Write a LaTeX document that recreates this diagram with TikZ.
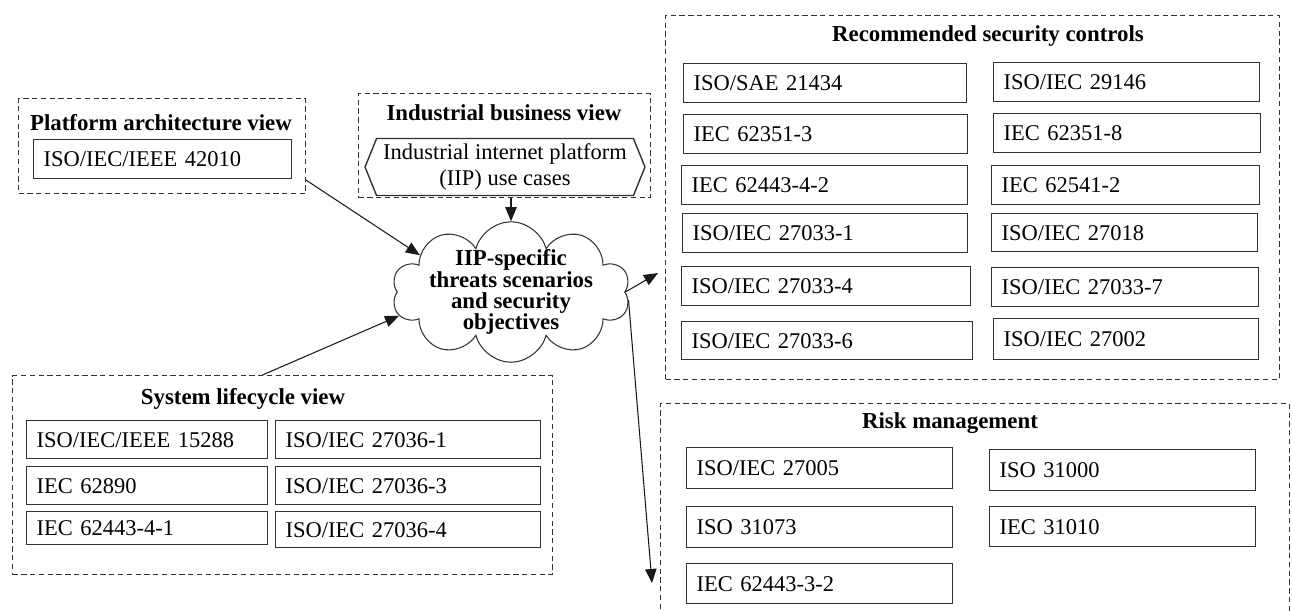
\documentclass[tikz,border=0pt]{standalone}
\usepackage{fontspec}
\setmainfont{Liberation Serif}
\usetikzlibrary{arrows.meta, calc, shapes.symbols}
\tikzset{
  stdbox/.style={draw=black!80, line width=0.8pt, anchor=north west, inner xsep=0.2cm, inner ysep=0pt,
    minimum height=0.78cm, text width=#1, align=left, font=\fontsize{12.8}{14}\selectfont},
  viewbox/.style={draw=black!80, line width=0.6pt, dash pattern=on 3pt off 2pt, anchor=north west, inner sep=0pt},
  viewtitle/.style={font=\fontsize{13}{15}\selectfont\bfseries, inner sep=0pt},
  flow/.style={-{Triangle[length=8pt,width=6.5pt]}, line width=0.6pt, black!90},
}

\begin{document}
\begin{tikzpicture}[x=0.02cm, y=-0.02cm]
  \useasboundingbox (0,0) rectangle (1292,610);

  % the views round the threats
  \node[viewbox, minimum width=5.74cm, minimum height=1.9cm] (pav) at (18,98) {};
  \node[viewtitle] (pavt) at (161,123) {Platform architecture view};
  \node[stdbox=4.76cm] (iso42010) at (33,139) {ISO/IEC/IEEE 42010};

  \node[viewbox, minimum width=5.84cm, minimum height=2.08cm] (ibv) at (358,93) {};
  \node[viewtitle] (ibvt) at (504,113) {Industrial business view};
  \node[signal, signal to=west and east, signal pointer angle=136, draw=black!80, line width=0.8pt,
    minimum width=5.6cm, minimum height=1.14cm, inner sep=0pt, align=center,
    font=\fontsize{12.8}{15}\selectfont] (iip) at (505,167) {Industrial internet platform\\(IIP) use cases};

  \node[cloud, draw=black!80, line width=0.6pt, cloud puffs=10, aspect=2.4, inner xsep=-2pt, inner ysep=-16pt,
    minimum width=4.76cm, minimum height=2.3cm, align=center,
    font=\fontsize{13}{12}\selectfont\bfseries] (threat) at (511,292)
    {IIP-specific\\threats scenarios\\and security\\objectives};

  \node[viewbox, minimum width=10.8cm, minimum height=3.98cm] (slv) at (12,375) {};
  \node[viewtitle] (slvt) at (243,399) {System lifecycle view};
  \node[stdbox=4.42cm, minimum height=0.76cm] (iso15288) at (26,420) {ISO/IEC/IEEE 15288};
  \node[stdbox=4.42cm, minimum height=0.76cm] (iec62890) at (26,466) {IEC 62890};
  \node[stdbox=4.42cm, minimum height=0.66cm] (iec6244341) at (26,511) {IEC 62443-4-1};
  \node[stdbox=4.9cm, minimum height=0.76cm] (iso270361) at (275,420) {ISO/IEC 27036-1};
  \node[stdbox=4.9cm, minimum height=0.76cm] (iso270363) at (275,466) {ISO/IEC 27036-3};
  \node[stdbox=4.9cm, minimum height=0.72cm] (iso270364) at (275,511) {ISO/IEC 27036-4};

  % recommended controls
  \node[viewbox, minimum width=12.28cm, minimum height=7.28cm] (rsc) at (665,15) {};
  \node[viewtitle] (rsct) at (988,36) {Recommended security controls};
  \node[stdbox=5.26cm] (iso21434) at (683,63) {ISO/SAE 21434};
  \node[stdbox=5.28cm] (iec623513) at (683,114) {IEC 62351-3};
  \node[stdbox=5.32cm] (iec6244342) at (681,165) {IEC 62443-4-2};
  \node[stdbox=5.3cm] (iso270331) at (682,213) {ISO/IEC 27033-1};
  \node[stdbox=5.38cm] (iso270334) at (681,266) {ISO/IEC 27033-4};
  \node[stdbox=5.42cm, minimum height=0.76cm] (iso270336) at (681,321) {ISO/IEC 27033-6};
  \node[stdbox=4.92cm] (iso29146) at (993,62) {ISO/IEC 29146};
  \node[stdbox=4.94cm] (iec623518) at (993,113) {IEC 62351-8};
  \node[stdbox=4.96cm] (iec625412) at (991,165) {IEC 62541-2};
  \node[stdbox=4.92cm, minimum height=0.76cm] (iso27018) at (991,213) {ISO/IEC 27018};
  \node[stdbox=4.94cm] (iso270337) at (991,267) {ISO/IEC 27033-7};
  \node[stdbox=4.9cm, minimum height=0.82cm] (iso27002) at (993,318) {ISO/IEC 27002};

  % risk management
  \node[viewbox, minimum width=12.58cm, minimum height=4.4cm] (rm) at (660,403) {};
  \node[viewtitle] (rmt) at (950,423) {Risk management};
  \node[stdbox=4.92cm, minimum height=0.82cm] (iso27005) at (686,447) {ISO/IEC 27005};
  \node[stdbox=4.92cm, minimum height=0.82cm] (iso31073) at (686,506) {ISO 31073};
  \node[stdbox=4.92cm, minimum height=0.8cm] (iec6244332) at (686,563) {IEC 62443-3-2};
  \node[stdbox=4.92cm, minimum height=0.82cm] (iso31000) at (989,449) {ISO 31000};
  \node[stdbox=4.92cm, minimum height=0.8cm] (iec31010) at (989,506) {IEC 31010};

  % connectors
  \coordinate (rsctip) at (658,273);
  \coordinate (rmtip) at (652,583);
  \draw[flow] ($(pav.south east)+(0,-14)$) -- (threat.158);
  \draw[flow] (threat.north |- ibv.south) -- (threat.north);
  \draw[flow] ($(slv.north)+(-20,0)$) -- (threat.192);
  \draw[flow] (threat.east) -- (rsctip);
  \draw[flow] (threat.-4) -- (rmtip);
\end{tikzpicture}
\end{document}
